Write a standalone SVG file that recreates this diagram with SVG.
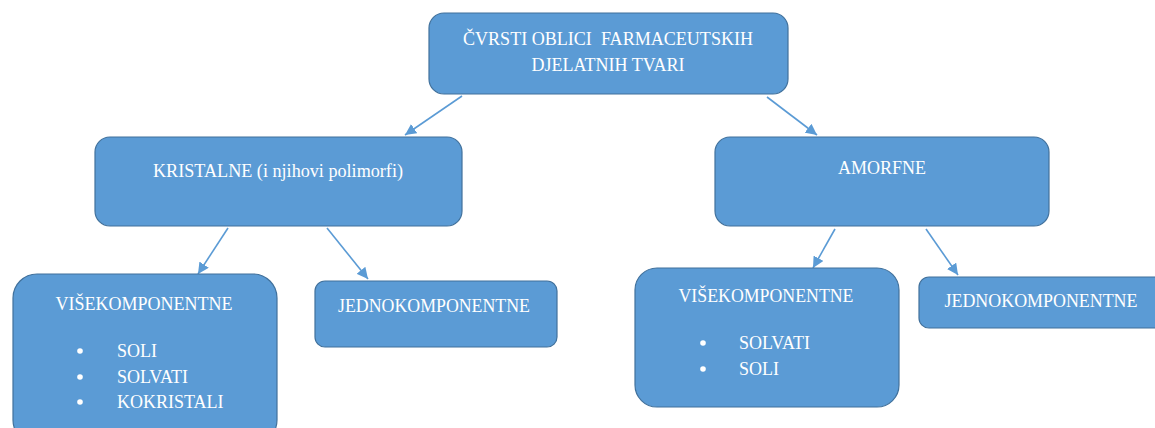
<svg xmlns="http://www.w3.org/2000/svg" width="1155" height="428" viewBox="0 0 1155 428">
<style>
.box{fill:#5b9bd5;stroke:#41719c;stroke-width:1.2}
.t{font-family:'Liberation Serif','Tinos','DejaVu Serif',serif;font-size:18px;fill:#ffffff}
.c{text-anchor:middle}
.b{text-anchor:middle}
.conn{stroke:#5b9bd5;stroke-width:1.6;fill:none}
</style>
<defs>
<marker id="arr" viewBox="0 0 10 10" refX="10" refY="5" markerWidth="7" markerHeight="7" orient="auto" markerUnits="strokeWidth">
<path d="M0,0 L10,5 L0,10 z" fill="#5b9bd5"/>
</marker>
</defs>
<rect width="1155" height="428" fill="#ffffff"/>
<g id="connectors">
<line class="conn" x1="462" y1="96" x2="405" y2="135" marker-end="url(#arr)"/>
<line class="conn" x1="767" y1="97" x2="817" y2="135" marker-end="url(#arr)"/>
<line class="conn" x1="228" y1="228" x2="198" y2="274" marker-end="url(#arr)"/>
<line class="conn" x1="327" y1="228" x2="368" y2="279" marker-end="url(#arr)"/>
<line class="conn" x1="835" y1="229" x2="813" y2="268" marker-end="url(#arr)"/>
<line class="conn" x1="926" y1="229" x2="958" y2="275" marker-end="url(#arr)"/>
</g>
<g id="root">
<rect class="box" x="429" y="13" width="359" height="81" rx="15"/>
<text class="t c" font-family="Liberation Serif, serif" x="608" y="45" xml:space="preserve" textLength="290" lengthAdjust="spacingAndGlyphs">ČVRSTI OBLICI  FARMACEUTSKIH</text>
<text class="t c" font-family="Liberation Serif, serif" x="608" y="71">DJELATNIH TVARI</text>
</g>
<g id="kristalne">
<rect class="box" x="95" y="137" width="367" height="89" rx="15"/>
<text class="t c" x="278" y="177" textLength="250" lengthAdjust="spacingAndGlyphs">KRISTALNE (i njihovi polimorfi)</text>
</g>
<g id="amorfne">
<rect class="box" x="715" y="137" width="334" height="89" rx="15"/>
<text class="t c" x="882" y="174">AMORFNE</text>
</g>
<g id="visekomponentne-k">
<rect class="box" x="13" y="274" width="264" height="170" rx="24"/>
<text class="t c" x="144" y="310" textLength="177" lengthAdjust="spacingAndGlyphs">VIŠEKOMPONENTNE</text>
<circle cx="80" cy="351" r="2.8" fill="#ffffff"/>
<text class="t" x="117" y="357">SOLI</text>
<circle cx="80" cy="377" r="2.8" fill="#ffffff"/>
<text class="t" x="117" y="383">SOLVATI</text>
<circle cx="80" cy="402" r="2.8" fill="#ffffff"/>
<text class="t" x="117" y="408">KOKRISTALI</text>
</g>
<g id="jednokomponentne-k">
<rect class="box" x="315" y="281" width="242" height="66" rx="10"/>
<text class="t c" x="434" y="312" textLength="192" lengthAdjust="spacingAndGlyphs">JEDNOKOMPONENTNE</text>
</g>
<g id="visekomponentne-a">
<rect class="box" x="635" y="268" width="264" height="139" rx="22"/>
<text class="t c" x="766" y="302" textLength="175" lengthAdjust="spacingAndGlyphs">VIŠEKOMPONENTNE</text>
<circle cx="703" cy="343" r="2.8" fill="#ffffff"/>
<text class="t" x="739" y="349">SOLVATI</text>
<circle cx="703" cy="369" r="2.8" fill="#ffffff"/>
<text class="t" x="739" y="375">SOLI</text>
</g>
<g id="jednokomponentne-a">
<rect class="box" x="919" y="277" width="250" height="51" rx="10"/>
<text class="t c" x="1041" y="307" textLength="193" lengthAdjust="spacingAndGlyphs">JEDNOKOMPONENTNE</text>
</g>
</svg>
